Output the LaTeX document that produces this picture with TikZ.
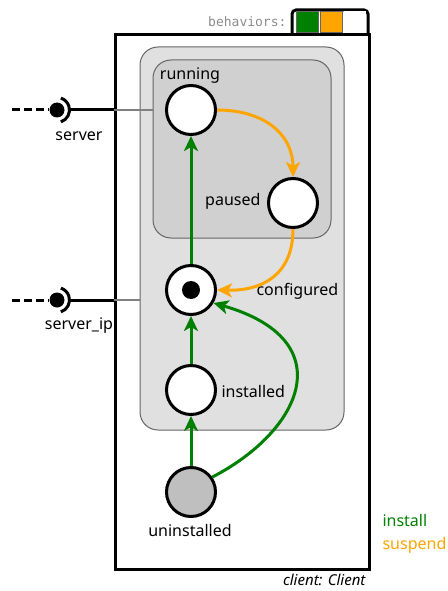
\documentclass[tikz,border=0pt]{standalone}
\usepackage{fontspec}
\setmainfont{Noto Sans}
\newfontfamily\behavfont{DejaVu Sans Mono}
\usetikzlibrary{arrows.meta}
\definecolor{installgreen}{HTML}{008000}
\definecolor{suspendorange}{HTML}{FFA500}
\definecolor{regionfill}{HTML}{E0E0E0}
\definecolor{runfill}{HTML}{D0D0D0}

\begin{document}
\begin{tikzpicture}[x=1pt,y=-1pt,font=\fontsize{16}{18}\selectfont,
    state/.style={circle,draw,line width=3pt,fill=white,minimum size=49pt,inner sep=0pt},
    region/.style={draw=black!60,line width=1pt,rounded corners=18pt,inner sep=0pt},
    install/.style={draw=installgreen,line width=3pt,-{Stealth[length=15pt,width=14pt,inset=4pt]}},
    suspend/.style={draw=suspendorange,line width=3pt,-{Stealth[length=15pt,width=14pt,inset=4pt]}},
    wire/.style={line width=3pt},
    cell/.style={minimum width=22pt,minimum height=21pt,inner sep=0pt,draw=black!60,line width=1pt}]
  \useasboundingbox (0,0) rectangle (447,591);

  % component and its behaviors tab
  \node[draw,line width=3pt,minimum width=254pt,minimum height=534pt,inner sep=0pt] (client box) at (242,302) {};
  \node[anchor=north east,font=\fontsize{15}{17}\selectfont\itshape] (client name) at (369,571) {client: Client};
  \draw[line width=3pt,rounded corners=4pt] (292,35) -- (292,10) -- (368,10) -- (368,35);
  \node[cell,fill=installgreen] (install cell) at (307,22) {};
  \node[cell,fill=suspendorange] (suspend cell) at (331,22) {};
  \node[cell,fill=white,draw=none] (empty cell) at (355,22) {};
  \node[anchor=east,font=\behavfont\fontsize{13}{15}\selectfont,text=black!45] (behaviors) at (290,22) {behaviors:};

  % regions
  \node[region,fill=regionfill,minimum width=204pt,minimum height=383pt] (outer region) at (242,238.5) {};
  \node[region,fill=runfill,minimum width=178pt,minimum height=178pt] (running region) at (242,149) {};

  % states
  \node[state] (running) at (191,110) {};
  \node[state] (paused) at (293,203) {};
  \node[state] (configured) at (191,290) {};
  \node[circle,fill,minimum size=18pt,inner sep=0pt] (configured dot) at (configured) {};
  \node[state] (installed) at (191,390) {};
  \node[state,fill=black!25] (uninstalled) at (191,492) {};

  \node (running label) at (190,76) {running};
  \node[anchor=east] (paused label) at (264,201) {paused};
  \node[anchor=west] (configured label) at (253,291) {configured};
  \node[anchor=west] (installed label) at (218,391) {installed};
  \node (uninstalled label) at (190,530) {uninstalled};

  % transitions
  \draw[install] (uninstalled) -- (installed);
  \draw[install] (installed) -- (configured);
  \draw[install] (configured) -- (running);
  \draw[install] (uninstalled.35) .. controls (303,430) and (342,340) .. (configured.-30);
  \draw[suspend] (running.east) .. controls (265,110) and (293,135) .. (paused.north);
  \draw[suspend] (paused.south) .. controls (293,275) and (262,291) .. (configured.east);

  % ports
  \foreach \port/\py/\target/\portlabel in {server/110/running region/server,server ip/300/outer region/server\_ip}{
    \node[circle,fill,minimum size=15pt,inner sep=0pt] (\port\space dot) at (57,\py) {};
    \draw[wire] (\port\space dot) ++(-72:12.5pt) arc[start angle=-72,end angle=72,radius=12.5pt];
    \coordinate (\port\space socket) at (70,\py);
    \draw[wire] (\port\space socket) -- (client box.west |- \port\space socket);
    \draw[black!50,line width=2pt] (client box.west |- \port\space socket) -- (\target.west |- \port\space socket);
    \coordinate (\port\space end) at (12,\py);
    \draw[wire,dash pattern=on 8pt off 4pt] (\port\space end) -- (\port\space dot.west);
    \node (\port\space label) at (79,\py+26) {\portlabel};
  }

  % legend
  \node[anchor=west,text=installgreen] (install legend) at (379,520) {install};
  \node[anchor=west,text=suspendorange] (suspend legend) at (379,545) {suspend};
\end{tikzpicture}
\end{document}
